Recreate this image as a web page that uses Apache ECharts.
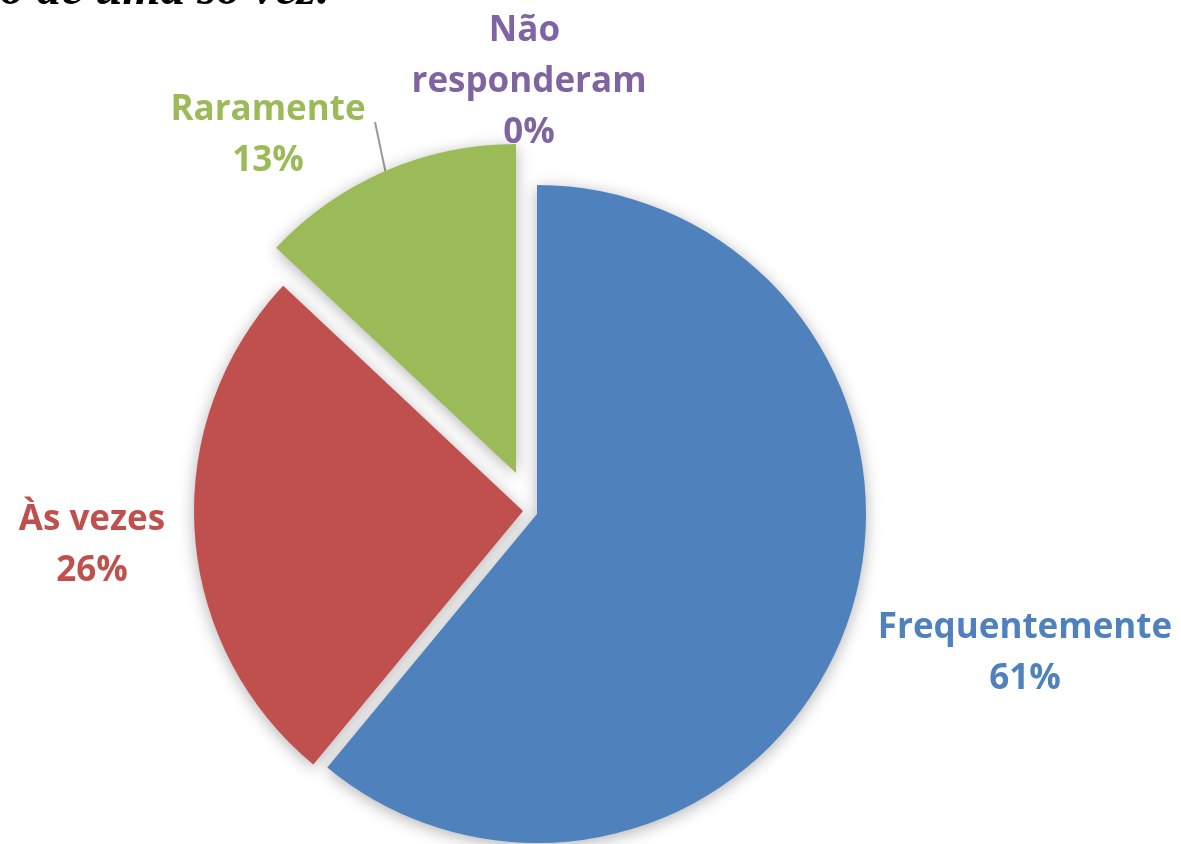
<!DOCTYPE html>
<html><head><meta charset="utf-8">
<script src="https://cdn.jsdelivr.net/npm/echarts@6/dist/echarts.min.js"></script>
<style>html,body{margin:0;padding:0;background:#fff}#c{width:1181px;height:844px}</style>
</head><body><div id="c"></div>
<script>
// ---- data ----
const categories = ['Frequentemente', 'Às vezes', 'Raramente', 'Não responderam'];
const values = [61, 26, 13, 0];
const titleText = 'o de uma só vez:';

// ---- style / layout ----
const colors = ['#4F81BD', '#C0504D', '#9BBB59', '#8064A2'];
const R = 329;
const sliceCenters = [[537, 514], [523, 511], [516, 473]];   // exploded slices
const labelCenters = [[1025, 654], [92, 546], [268, 136], [529, 82]];
const labelWidths = [null, null, null, 260];
const labelOwner = [0, 1, 2, 2];
const leaderIndex = 2;

const chart = echarts.init(document.getElementById('c'), null, { renderer: 'canvas' });

const series = sliceCenters.map((c, s) => ({
  type: 'pie',
  center: c,
  radius: R,
  startAngle: 90,
  clockwise: true,
  avoidLabelOverlap: false,
  animation: false,
  silent: true,
  z: s === 0 ? 4 : 2,
  percentPrecision: 0,
  label: {
    formatter: '{b}\n{d}%',
    fontFamily: '"Open Sans"',
    fontWeight: 'bold',
    fontSize: 35,
    lineHeight: 51,
    align: 'center'
  },
  labelLine: { show: false },
  labelLayout: function (p) {
    const lc = labelCenters[p.dataIndex];
    const out = { x: lc[0], y: lc[1], align: 'center', verticalAlign: 'middle' };
    if (p.dataIndex === leaderIndex && p.labelLinePoints) {
      const p0 = p.labelLinePoints[0];
      out.labelLinePoints = [p0, [lc[0] + 107, lc[1] - 14]];
    }
    return out;
  },
  data: categories.map((name, i) => {
    const ownsLabel = labelOwner[i] === s;
    const visible = i === s;
    const lbl = { show: ownsLabel, color: colors[i] };
    if (labelWidths[i]) { lbl.width = labelWidths[i]; lbl.overflow = 'break'; }
    return {
      name: name,
      value: values[i],
      itemStyle: visible ? {
        color: colors[i],
        shadowBlur: 16,
        shadowColor: 'rgba(0,0,0,0.3)',
        shadowOffsetX: 0,
        shadowOffsetY: 3
      } : { color: 'rgba(0,0,0,0)' },
      label: lbl,
      labelLine: {
        show: ownsLabel && i === leaderIndex,
        length: 40, length2: 0,
        lineStyle: { color: '#999999', width: 2 }
      }
    };
  })
}));

chart.setOption({
  backgroundColor: '#ffffff',
  animation: false,
  graphic: [{
    type: 'text',
    x: 0,
    y: -9,
    style: {
      text: titleText,
      font: 'italic bold 49px "Liberation Serif"',
      fill: '#000',
      verticalAlign: 'middle',
      align: 'left'
    }
  }],
  series: series
});
</script>
</body></html>
